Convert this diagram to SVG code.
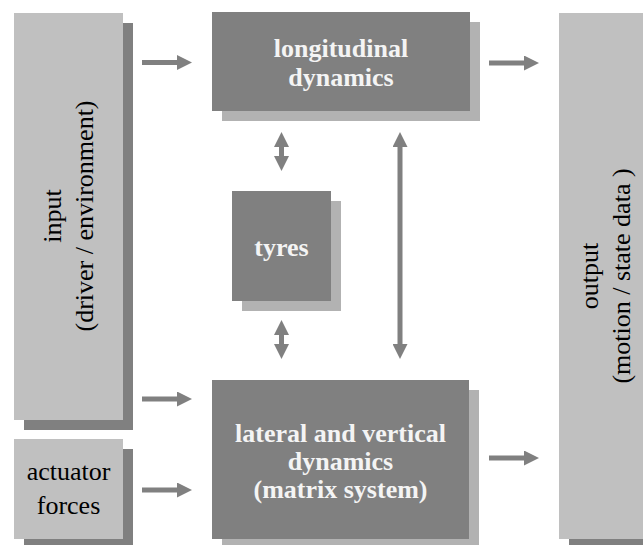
<svg xmlns="http://www.w3.org/2000/svg" width="643" height="545" viewBox="0 0 643 545">
  <style>
    .light { fill: #c0c0c0; }
    .dark { fill: #808080; }
    .shadow-light { fill: #b2b2b2; }
    .shadow-dark { fill: #808080; }
    text { font-size: 26px; text-anchor: middle; }
    .bold { font-weight: bold; fill: #f4f4f4; }
    .plain { fill: #000000; }
    .conn-s { stroke: #808080; stroke-width: 5; fill: none; marker-end: url(#head); }
    .conn-d { stroke: #808080; stroke-width: 5; fill: none; marker-end: url(#head); marker-start: url(#head); }
  </style>
  <defs>
    <marker id="head" markerUnits="userSpaceOnUse" markerWidth="15" markerHeight="15" refX="0" refY="7.5" orient="auto-start-reverse" viewBox="0 0 15 15">
      <path d="M0,0 L15,7.5 L0,15 Z" fill="#808080"/>
    </marker>
  </defs>

  <rect width="643" height="545" fill="#ffffff"/>

  <g font-family="'Liberation Serif', Tinos, 'DejaVu Serif', serif">
    <!-- input block -->
    <g id="input">
      <rect class="shadow-dark" x="24" y="23" width="109" height="407"/>
      <rect class="light" x="14" y="13" width="109" height="407"/>
      <text class="plain" transform="translate(61,216) rotate(-90)">input</text>
      <text class="plain" transform="translate(93,216) rotate(-90)">(driver / environment)</text>
    </g>

    <!-- actuator forces block -->
    <g id="actuator">
      <rect class="shadow-dark" x="24" y="449" width="109" height="100"/>
      <rect class="light" x="14" y="439" width="109" height="100"/>
      <text class="plain" x="68.5" y="480">actuator</text>
      <text class="plain" x="68.5" y="514">forces</text>
    </g>

    <!-- longitudinal dynamics block -->
    <g id="longitudinal">
      <rect class="shadow-light" x="222" y="22" width="258" height="99"/>
      <rect class="dark" x="212" y="12" width="258" height="99"/>
      <text class="bold" x="341" y="57">longitudinal</text>
      <text class="bold" x="341" y="86">dynamics</text>
    </g>

    <!-- tyres block -->
    <g id="tyres">
      <rect class="shadow-light" x="242" y="201" width="99" height="110"/>
      <rect class="dark" x="232" y="191" width="99" height="110"/>
      <text class="bold" x="281.5" y="256">tyres</text>
    </g>

    <!-- lateral and vertical dynamics block -->
    <g id="lateral">
      <rect class="shadow-light" x="222" y="390" width="257" height="159"/>
      <rect class="dark" x="212" y="380" width="257" height="159"/>
      <text class="bold" x="340.5" y="442">lateral and vertical</text>
      <text class="bold" x="340.5" y="470">dynamics</text>
      <text class="bold" x="340.5" y="498">(matrix system)</text>
    </g>

    <!-- output block -->
    <g id="output">
      <rect class="shadow-dark" x="569" y="23" width="90" height="526"/>
      <rect class="light" x="559" y="13" width="90" height="526"/>
      <text class="plain" transform="translate(598,276) rotate(-90)">output</text>
      <text class="plain" transform="translate(630,276) rotate(-90)">(motion / state data )</text>
    </g>
  </g>

  <!-- connectors -->
  <g id="connectors">
    <line class="conn-s" x1="142" y1="62.5" x2="177" y2="62.5"/>
    <line class="conn-s" x1="142" y1="399" x2="177" y2="399"/>
    <line class="conn-s" x1="142" y1="490" x2="177" y2="490"/>
    <line class="conn-s" x1="489" y1="63" x2="524" y2="63"/>
    <line class="conn-s" x1="489" y1="458" x2="524" y2="458"/>
    <line class="conn-d" x1="281.5" y1="147" x2="281.5" y2="156"/>
    <line class="conn-d" x1="281.5" y1="335" x2="281.5" y2="344"/>
    <line class="conn-d" x1="400" y1="147" x2="400" y2="344"/>
  </g>
</svg>
